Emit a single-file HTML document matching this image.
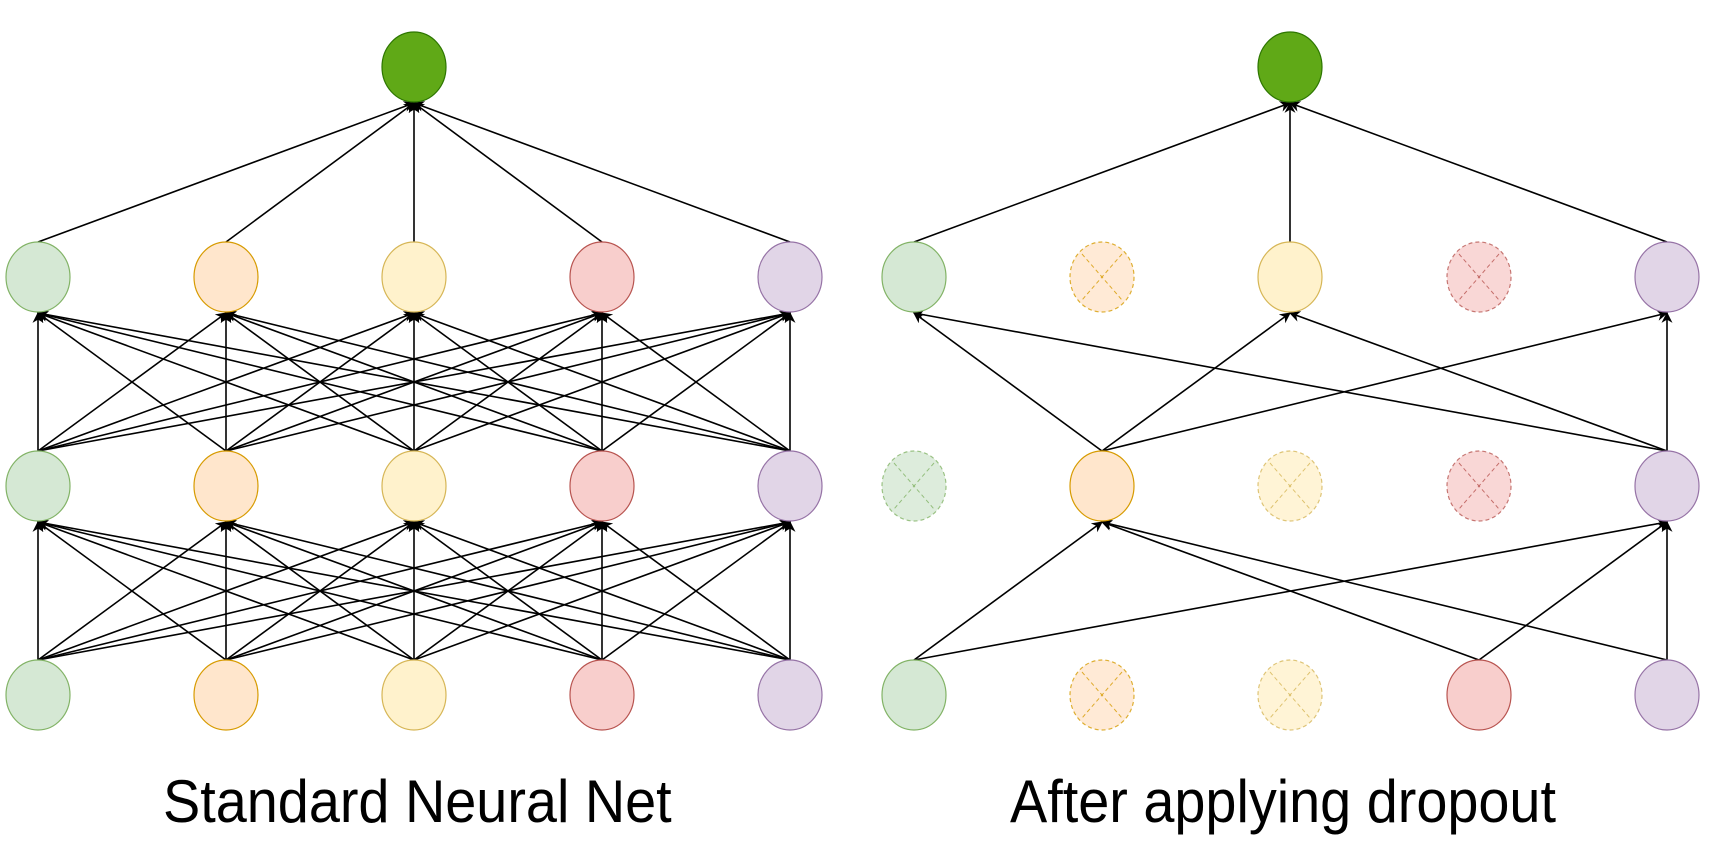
<!DOCTYPE html>
<html><head><meta charset="utf-8"><style>
html,body{margin:0;padding:0;background:#fff;width:1714px;height:842px;overflow:hidden}
svg{position:absolute;left:0;top:0}
.lbl{position:absolute;top:767px;font-family:"Liberation Sans",sans-serif;font-size:60px;color:#000;white-space:nowrap;transform:scaleX(0.93);transform-origin:left top}
</style></head><body>
<svg id="s" width="1714" height="842" xmlns="http://www.w3.org/2000/svg">
<defs><marker id="a" viewBox="0 0 10 10" refX="9" refY="5" markerWidth="11" markerHeight="11" orient="auto" markerUnits="userSpaceOnUse"><path d="M0,0 L10,5 L0,10 L3,5 z" fill="#000"/></marker></defs>
<g id="edges" stroke="#000" stroke-width="1.6" fill="none"></g>
<g id="nodes"></g>
</svg>
<div class="lbl" style="left:163px">Standard Neural Net</div>
<div class="lbl" style="left:1010px">After applying dropout</div>
<script>
var NS="http://www.w3.org/2000/svg";
var rows=[67,277,486,695], rx=32, ry=35;
var L=[38,226,414,602,790], R=[914,1102,1290,1479,1667];
var fills=[["#d5e8d4","#82b366"],["#ffe6cc","#d79b00"],["#fff2cc","#d6b656"],["#f8cecc","#b85450"],["#e1d5e7","#9673a6"]];
var E=document.getElementById("edges"),N=document.getElementById("nodes");
function line(x1,y1,x2,y2){var l=document.createElementNS(NS,"line");l.setAttribute("x1",x1);l.setAttribute("y1",y1-ry);l.setAttribute("x2",x2);l.setAttribute("y2",y2+ry+1);l.setAttribute("marker-end","url(#a)");E.appendChild(l);}
function node(x,y,f,s,drop){var e=document.createElementNS(NS,"ellipse");e.setAttribute("cx",x);e.setAttribute("cy",y);e.setAttribute("rx",rx);e.setAttribute("ry",ry);e.setAttribute("fill",f);e.setAttribute("stroke",s);e.setAttribute("stroke-width","1.2");
if(drop){e.setAttribute("stroke-dasharray","4 3");e.setAttribute("opacity","0.8");}
N.appendChild(e);
if(drop){[[-1,-1,1,1],[1,-1,-1,1]].forEach(function(d){var l=document.createElementNS(NS,"line");l.setAttribute("x1",x+d[0]*20);l.setAttribute("y1",y+d[1]*23);l.setAttribute("x2",x+d[2]*20);l.setAttribute("y2",y+d[3]*23);l.setAttribute("stroke",s);l.setAttribute("stroke-dasharray","4 3");l.setAttribute("opacity","0.8");N.appendChild(l);});}}
for(var i=0;i<5;i++)line(L[i],rows[1],L[2],rows[0]);
for(var r=1;r<3;r++)for(var i=0;i<5;i++)for(var j=0;j<5;j++)line(L[i],rows[r+1],L[j],rows[r]);
[0,2,4].forEach(function(i){line(R[i],rows[1],R[2],rows[0]);});
[[1,0],[1,2],[1,4],[4,0],[4,2],[4,4]].forEach(function(p){line(R[p[0]],rows[2],R[p[1]],rows[1]);});
[[0,1],[0,4],[3,1],[3,4],[4,1],[4,4]].forEach(function(p){line(R[p[0]],rows[3],R[p[1]],rows[2]);});
node(L[2],rows[0],"#60a917","#2d7600");node(R[2],rows[0],"#60a917","#2d7600");
var drop=[[],[1,3],[0,2,3],[1,2]];
for(var r=1;r<4;r++)for(var i=0;i<5;i++){node(L[i],rows[r],fills[i][0],fills[i][1],false);node(R[i],rows[r],fills[i][0],fills[i][1],drop[r].indexOf(i)>=0);}
</script>
</body></html>
